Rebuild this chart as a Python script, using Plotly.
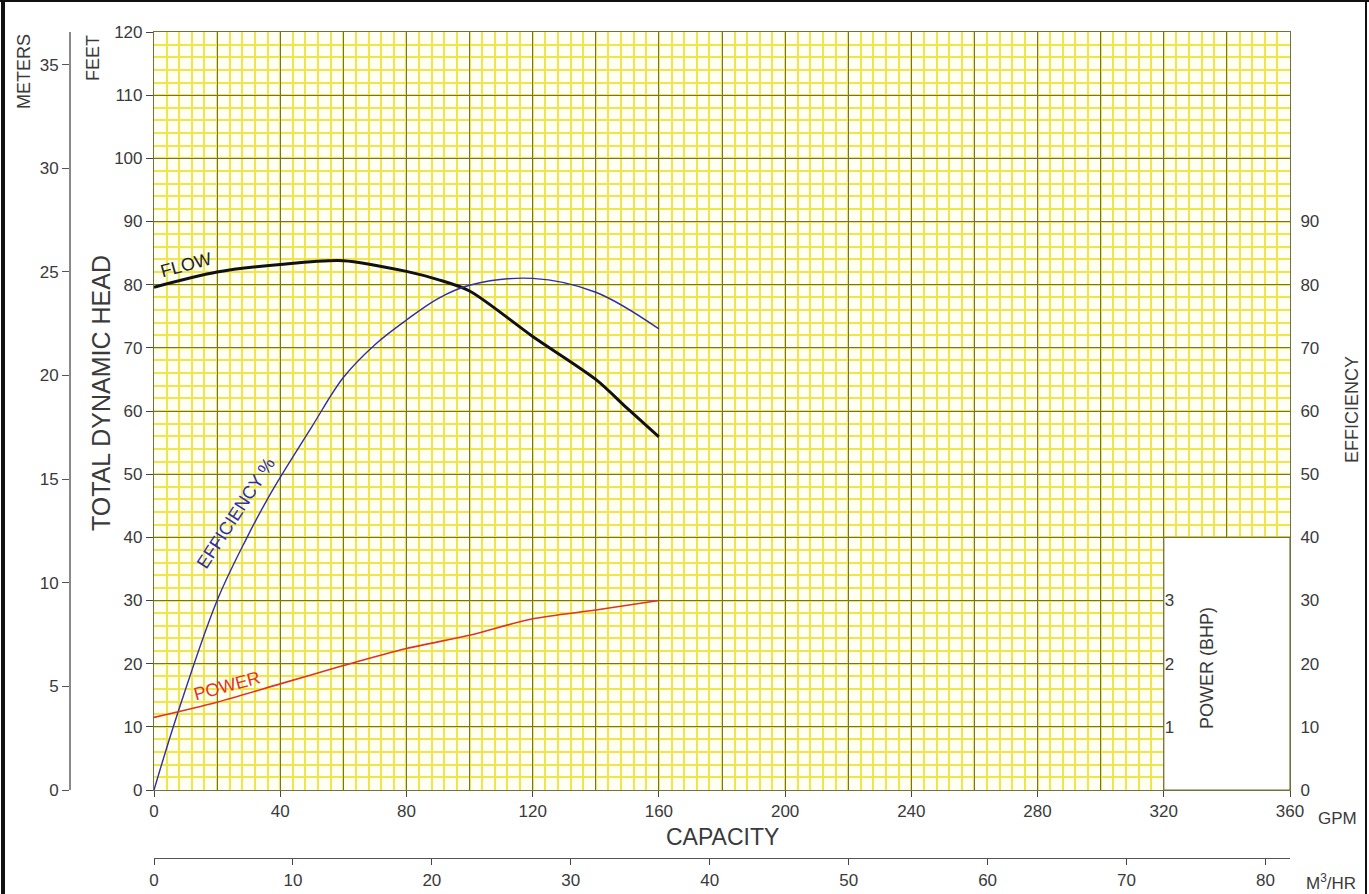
import plotly.graph_objects as go

# ---------------- data ----------------
gpm_flow = [0, 20, 40, 60, 80, 90, 100, 120, 140, 150, 160]
head_ft = [79.6, 82.0, 83.2, 83.8, 82.1, 80.8, 79.0, 71.8, 65.0, 60.4, 55.9]

gpm_eff = [0, 7.4, 20, 29.5, 36, 40, 50, 60, 70, 80, 90, 100, 120, 140, 160]
eff_pct = [0, 12.0, 30.0, 40.0, 46.1, 49.5, 57.5, 65.3, 70.5, 74.4, 77.8, 79.9, 81.0, 78.8, 73.0]

gpm_power = [0, 20, 40, 60, 80, 100, 120, 140, 160]
power_bhp = [1.15, 1.39, 1.68, 1.97, 2.24, 2.45, 2.71, 2.85, 3.00]

gpm_ticks = list(range(0, 361, 40))
gpm_grid = list(range(0, 361, 20))
feet_ticks = list(range(0, 121, 10))
eff_ticks = list(range(0, 91, 10))
power_ticks = [1, 2, 3]
meter_ticks = list(range(0, 36, 5))
m3hr_ticks = list(range(0, 81, 10))

GPM_MAX = 360
FEET_MAX = 120
M_PER_FT = 0.3048
GPM_PER_M3HR = 4.402868
WHITE_BOX = dict(x0=320, x1=360, y0=0, y1=40)  # blank panel in the grid

# ---------------- styling ----------------
W, H = 1369, 894
FONT = "Liberation Sans, Arial, sans-serif"
TXT = "#3a3a3a"
OLIVE = "#72723c"
YEL = "#f1e54c"
BLUE = "#2e2ea8"
RED = "#e0341e"


def px(x):
    return x / W


def py(y):
    return 1 - y / H


X0, X1, Y0, Y1 = 154, 1290, 790, 32  # plot area in pixels
xdom = [px(X0), px(X1)]
ydom = [py(Y0), py(Y1)]

fig = go.Figure()

fig.add_trace(go.Scatter(x=gpm_flow, y=head_ft, mode="lines", xaxis="x", yaxis="y",
                         line=dict(color="#111111", width=3, shape="spline", smoothing=0.8),
                         hoverinfo="skip", showlegend=False))
fig.add_trace(go.Scatter(x=gpm_eff, y=eff_pct, mode="lines", xaxis="x", yaxis="y2",
                         line=dict(color=BLUE, width=1.4, shape="spline", smoothing=1.0),
                         hoverinfo="skip", showlegend=False))
fig.add_trace(go.Scatter(x=gpm_power, y=power_bhp, mode="lines", xaxis="x", yaxis="y3",
                         line=dict(color=RED, width=1.6, shape="spline", smoothing=0.8),
                         hoverinfo="skip", showlegend=False))
# empty traces so that the extra scale axes are drawn
for xa, ya in (("x2", "y"), ("x3", "y"), ("x", "y4")):
    fig.add_trace(go.Scatter(x=[], y=[], xaxis=xa, yaxis=ya, mode="lines",
                             hoverinfo="skip", showlegend=False))

tickfont = dict(family=FONT, size=17, color=TXT)
common = dict(automargin=False, zeroline=False, fixedrange=True)

fig.update_layout(
    width=W, height=H, autosize=False,
    margin=dict(l=0, r=0, t=0, b=0, pad=0, autoexpand=False),
    paper_bgcolor="white",
    plot_bgcolor="#fffff4",
    font=dict(family=FONT, color=TXT),
    showlegend=False,
    xaxis=dict(domain=xdom, range=[0, GPM_MAX], tickmode="array", tickvals=gpm_grid,
               showticklabels=False, ticks="", showgrid=True, gridcolor=OLIVE, gridwidth=1.2,
               minor=dict(tickmode="linear", tick0=0, dtick=4, showgrid=True,
                          gridcolor=YEL, gridwidth=1.5),
               showline=True, mirror=True, linecolor=OLIVE, linewidth=1.2,
               anchor="y", **common),
    xaxis2=dict(overlaying="x", range=[0, GPM_MAX], tickmode="array", tickvals=gpm_ticks,
                ticks="outside", ticklen=6, tickcolor="#444", tickwidth=1.2,
                showgrid=False, showline=False, tickfont=tickfont,
                anchor="y", side="bottom", **common),
    xaxis3=dict(overlaying="x", range=[0, GPM_MAX / GPM_PER_M3HR], tickmode="array",
                tickvals=m3hr_ticks, ticks="outside", ticklen=6, tickcolor="#444",
                tickwidth=1.2, showgrid=False, showline=True,
                linecolor="#555", linewidth=1.4, tickfont=tickfont,
                anchor="free", position=py(858), side="bottom", **common),
    yaxis=dict(domain=ydom, range=[0, FEET_MAX], tickmode="array", tickvals=feet_ticks,
               ticks="outside", ticklen=7, tickcolor="#444", tickwidth=1.2,
               showgrid=True, gridcolor=OLIVE, gridwidth=1.2,
               minor=dict(tickmode="linear", tick0=0, dtick=2, showgrid=True,
                          gridcolor=YEL, gridwidth=1.5),
               showline=True, mirror=True, linecolor=OLIVE, linewidth=1.2,
               tickfont=tickfont, anchor="x", **common),
    yaxis2=dict(overlaying="y", side="right", range=[0, FEET_MAX], tickmode="array",
                tickvals=eff_ticks, ticks="outside", ticklen=6, tickcolor="rgba(0,0,0,0)",
                showgrid=False, showline=False, tickfont=tickfont, anchor="x", **common),
    yaxis3=dict(overlaying="y", side="right", range=[0, FEET_MAX / 10], tickmode="array",
                tickvals=power_ticks, ticks="", showgrid=False,
                showline=False, tickfont=tickfont, anchor="free",
                position=px(X0 + 320 / GPM_MAX * (X1 - X0)), **common),
    yaxis4=dict(overlaying="y", side="left", range=[0, FEET_MAX * M_PER_FT], tickmode="array",
                tickvals=meter_ticks, ticks="outside", ticklen=7, tickcolor="#555",
                tickwidth=1.2, showgrid=False, showline=True,
                linecolor="#8a8a8a", linewidth=2, tickfont=tickfont,
                anchor="free", position=px(70), **common),
)

# blank panel (grid removed) in the lower right corner
fig.add_shape(type="rect", xref="x", yref="y", layer="between",
              fillcolor="white", line=dict(color=OLIVE, width=1.2), **WHITE_BOX)

# outer frame
fig.add_shape(type="line", xref="paper", yref="paper", x0=px(3), x1=px(3), y0=0, y1=1,
              line=dict(color="#111", width=4))
fig.add_shape(type="line", xref="paper", yref="paper", x0=px(1366), x1=px(1366), y0=0, y1=1,
              line=dict(color="#111", width=2))
fig.add_shape(type="line", xref="paper", yref="paper", x0=0, x1=1, y0=py(1), y1=py(1),
              line=dict(color="#111", width=2))


def ann(text, x, y, size, angle=0, color=TXT):
    fig.add_annotation(text=text, xref="paper", yref="paper", x=px(x), y=py(y),
                       showarrow=False, textangle=angle, xanchor="center", yanchor="middle",
                       font=dict(family=FONT, size=size, color=color))


ann("METERS", 24, 72, 18, -90)
ann("FEET", 93, 58, 18, -90)
ann("TOTAL DYNAMIC HEAD", 101, 393, 25, -90)
ann("EFFICIENCY", 1352, 410, 18, -90)
ann("POWER (BHP)", 1207, 668, 18, -90)
ann("GPM", 1337, 818, 17)
ann("CAPACITY", 722, 837, 23)
ann("M<sup>3</sup>/HR", 1331, 882, 17)
ann("FLOW", 186, 265, 18, -15, "#222")
ann("EFFICIENCY %", 236, 513, 18, -57, BLUE)
ann("POWER", 227, 686, 18, -15, RED)

fig.write_html(
    "out.html",
    config={"responsive": False, "displayModeBar": False},
    default_width="1369px", default_height="894px",
    post_script=("document.body.style.margin='0';"
                 "document.body.style.overflow='hidden';"),
)
